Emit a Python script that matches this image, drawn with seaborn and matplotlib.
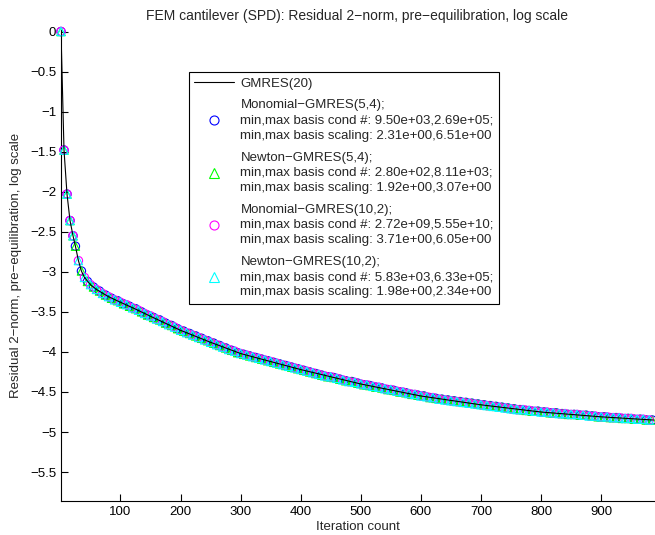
import matplotlib.pyplot as plt
import matplotlib.ticker as mticker
import numpy as np
import pandas as pd
import seaborn as sns

# GMRES(20) residual curve (log10 of relative residual 2-norm)
gmres_it = [1, 6, 11, 16, 21, 25, 30, 35, 40, 50, 60, 80, 100, 125, 150, 200, 250,
            300, 350, 400, 450, 500, 600, 700, 800, 900, 987]
gmres_res = [0.0, -1.48, -2.03, -2.36, -2.55, -2.68, -2.86, -2.99, -3.07, -3.16, -3.22,
             -3.31, -3.38, -3.465, -3.555, -3.73, -3.88, -4.02, -4.12, -4.22, -4.31,
             -4.40, -4.55, -4.66, -4.75, -4.81, -4.85]

# first outer iterations, shared by all four s-step runs
early_it = [1, 6, 11, 16, 21]
early_res = [0.0, -1.48, -2.03, -2.36, -2.55]

# s-step GMRES(5,4): marker every 10 iterations from 25
it_5_4 = early_it + list(range(25, 990, 10))
res_5_4 = early_res + [
    -2.68, -2.99, -3.12, -3.19, -3.24, -3.29, -3.33, -3.36, -3.40, -3.43,
    -3.46, -3.50, -3.54, -3.57, -3.60, -3.64, -3.67, -3.71, -3.74, -3.77,
    -3.80, -3.83, -3.86, -3.89, -3.92, -3.95, -3.98, -4.01, -4.03, -4.05,
    -4.07, -4.09, -4.11, -4.13, -4.15, -4.17, -4.19, -4.21, -4.23, -4.25,
    -4.27, -4.29, -4.31, -4.32, -4.34, -4.36, -4.37, -4.39, -4.41, -4.42,
    -4.44, -4.45, -4.47, -4.48, -4.50, -4.51, -4.53, -4.54, -4.55, -4.57,
    -4.58, -4.59, -4.60, -4.61, -4.62, -4.63, -4.64, -4.65, -4.66, -4.67,
    -4.68, -4.69, -4.70, -4.71, -4.72, -4.73, -4.74, -4.74, -4.75, -4.76,
    -4.76, -4.77, -4.78, -4.78, -4.79, -4.79, -4.80, -4.81, -4.81, -4.82,
    -4.82, -4.83, -4.83, -4.84, -4.84, -4.85, -4.85]

# s-step GMRES(10,2): marker every 10 iterations from 30
it_10_2 = early_it + list(range(30, 985, 10))
res_10_2 = early_res + [
    -2.86, -3.07, -3.16, -3.22, -3.27, -3.31, -3.35, -3.38, -3.41, -3.45,
    -3.48, -3.52, -3.55, -3.59, -3.62, -3.66, -3.69, -3.73, -3.76, -3.79,
    -3.82, -3.85, -3.88, -3.91, -3.94, -3.97, -3.99, -4.02, -4.04, -4.06,
    -4.08, -4.10, -4.12, -4.14, -4.16, -4.18, -4.20, -4.22, -4.24, -4.26,
    -4.28, -4.30, -4.31, -4.33, -4.35, -4.37, -4.38, -4.40, -4.41, -4.43,
    -4.44, -4.46, -4.47, -4.49, -4.50, -4.52, -4.53, -4.55, -4.56, -4.57,
    -4.59, -4.60, -4.61, -4.62, -4.63, -4.64, -4.65, -4.66, -4.67, -4.68,
    -4.69, -4.70, -4.71, -4.72, -4.72, -4.73, -4.74, -4.75, -4.75, -4.76,
    -4.77, -4.77, -4.78, -4.78, -4.79, -4.80, -4.80, -4.81, -4.81, -4.82,
    -4.82, -4.83, -4.83, -4.84, -4.84, -4.85]

labels = [
    "Monomial\u2212GMRES(5,4);\nmin,max basis cond #: 9.50e+03,2.69e+05;\nmin,max basis scaling: 2.31e+00,6.51e+00",
    "Newton\u2212GMRES(5,4);\nmin,max basis cond #: 2.80e+02,8.11e+03;\nmin,max basis scaling: 1.92e+00,3.07e+00",
    "Monomial\u2212GMRES(10,2);\nmin,max basis cond #: 2.72e+09,5.55e+10;\nmin,max basis scaling: 3.71e+00,6.05e+00",
    "Newton\u2212GMRES(10,2);\nmin,max basis cond #: 5.83e+03,6.33e+05;\nmin,max basis scaling: 1.98e+00,2.34e+00",
]

sns.set_style("ticks")
plt.rcParams['font.family'] = ['Liberation Sans', 'DejaVu Sans']
plt.rcParams['font.size'] = 9.5

fig = plt.figure(figsize=(6.55, 5.35), dpi=100)
ax = fig.add_axes([61 / 655, 1 - 501 / 535, 593 / 655, 471 / 535])

series = [
    (it_5_4, res_5_4, 'o', (0, 0, 1)),
    (it_5_4, res_5_4, '^', (0, 1, 0)),
    (it_10_2, res_10_2, 'o', (1, 0, 1)),
    (it_10_2, res_10_2, '^', (0, 1, 1)),
]
handles = []
for (it, res, mk, col), lab in zip(series, labels):
    df = pd.DataFrame({"it": it, "res": res})
    sns.scatterplot(data=df, x="it", y="res", marker=mk, s=36, facecolor='none',
                    edgecolor=col, linewidth=0.8, ax=ax, clip_on=False, zorder=3)
    h, = ax.plot([], [], linestyle='none', marker=mk, markersize=6.5,
                 markerfacecolor='none', markeredgecolor=col, markeredgewidth=0.8, label=lab)
    handles.append(h)

gdf = pd.DataFrame({"it": gmres_it, "res": gmres_res})
sns.lineplot(data=gdf, x="it", y="res", color='black', linewidth=0.8, ax=ax, zorder=4)
gh, = ax.plot([], [], color='black', linewidth=0.8, label="GMRES(20)")

ax.set_xlim(1, 988)
ax.set_ylim(-5.861, 0.019)
ax.set_xticks([100, 200, 300, 400, 500, 600, 700, 800, 900])
ax.set_yticks(np.arange(0, -5.6, -0.5))
ax.yaxis.set_major_formatter(mticker.FuncFormatter(lambda v, p: ('%g' % v).replace('-', '\u2212')))
ax.tick_params(direction='in', length=5, width=0.8, labelsize=9.5, colors='black')
for s in ['top', 'right']:
    ax.spines[s].set_visible(False)
for s in ['left', 'bottom']:
    ax.spines[s].set_linewidth(0.8)
    ax.spines[s].set_color('black')

ax.set_xlabel("Iteration count", fontsize=9.5, labelpad=2)
ax.set_ylabel("Residual 2\u2212norm, pre\u2212equilibration, log scale", fontsize=9.5, labelpad=5.5)
ax.set_title("FEM cantilever (SPD): Residual 2\u2212norm, pre\u2212equilibration, log scale",
             fontsize=10, pad=7)

leg = ax.legend(handles=[gh] + handles, loc='upper left',
                bbox_to_anchor=(189 / 655, 1 - 72 / 535), bbox_transform=fig.transFigure,
                borderaxespad=0, fancybox=False, frameon=True, fontsize=9.5,
                handlelength=3.0, handletextpad=0.5, labelspacing=0.75, borderpad=0.4)
for t in leg.get_texts():
    t.set_linespacing(1.35)
leg.get_frame().set_edgecolor('black')
leg.get_frame().set_linewidth(0.8)
leg.get_frame().set_alpha(1)

fig.savefig("out.png", dpi=100)
